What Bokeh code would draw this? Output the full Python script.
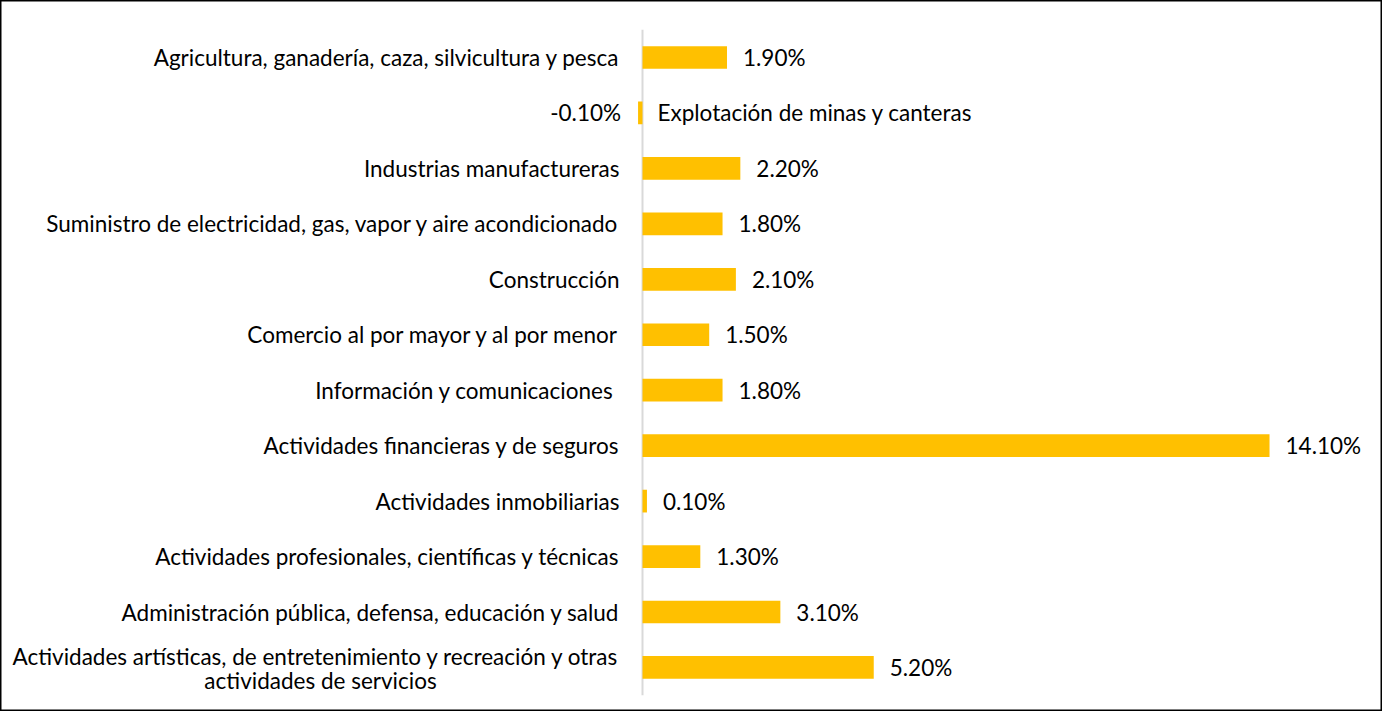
from bokeh.plotting import figure
from bokeh.models import Range1d, ColumnDataSource
from bokeh.core.properties import value
from bokeh.embed import file_html
from bokeh.resources import INLINE

categories = [
    "Agricultura, ganadería, caza, silvicultura y pesca",
    "Explotación de minas y canteras",
    "Industrias manufactureras",
    "Suministro de electricidad, gas, vapor y aire acondicionado",
    "Construcción",
    "Comercio al por mayor y al por menor",
    "Información y comunicaciones ",
    "Actividades financieras y de seguros",
    "Actividades inmobiliarias",
    "Actividades profesionales, científicas y técnicas",
    "Administración pública, defensa, educación y salud",
    "Actividades artísticas, de entretenimiento y recreación y otras\nactividades de servicios",
]
values = [1.9, -0.1, 2.2, 1.8, 2.1, 1.5, 1.8, 14.1, 0.1, 1.3, 3.1, 5.2]

FONT = "Lato"
FS = "22.5px"
W, H = 1382, 711
PX_PER_UNIT = 44.47
ZERO_X = 642
ROW0 = 57
ROW_H = 55.45

x_start = -ZERO_X / PX_PER_UNIT
x_end = (W - ZERO_X) / PX_PER_UNIT
y_top = -ROW0 / ROW_H
y_bot = (H - ROW0) / ROW_H

p = figure(width=W, height=H, output_backend="svg", toolbar_location=None,
           x_range=Range1d(x_start, x_end), y_range=Range1d(y_bot, y_top),
           min_border=0, x_axis_type=None, y_axis_type=None)
p.grid.visible = False
p.outline_line_color = "black"
p.outline_line_width = 2
p.background_fill_color = "white"
p.border_fill_color = "white"

n = len(categories)
ys = list(range(n))
pos = [v >= 0 for v in values]

src = ColumnDataSource(dict(y=ys, v=values, zero=[0] * n))

# zero line
p.segment(x0=[0], y0=[-0.5], x1=[0], y1=[n - 0.5], line_color="#D9D9D9", line_width=2)

p.hbar(y="y", left="zero", right="v", height=0.41, source=src,
       fill_color="#FFC000", line_color=None)

common = dict(text_baseline="middle", text_font=value(FONT),
              text_font_size=FS, text_color="#000000")

# value labels
pos_idx = [i for i in range(n) if pos[i]]
neg_idx = [i for i in range(n) if not pos[i]]
p.text(x=[values[i] for i in pos_idx], y=[ys[i] for i in pos_idx],
       text=[f"{values[i]:.2f}%" for i in pos_idx], x_offset=16,
       text_align="left", **common)
p.text(x=[values[i] for i in neg_idx], y=[ys[i] for i in neg_idx],
       text=[f"{values[i]:.2f}%" for i in neg_idx], x_offset=-17,
       text_align="right", **common)

# category labels (single line, positive bars)
single = [i for i in pos_idx if "\n" not in categories[i]]
multi = [i for i in pos_idx if "\n" in categories[i]]
p.text(x=[0] * len(single), y=[ys[i] for i in single],
       text=[categories[i] for i in single], x_offset=-23,
       text_align="right", **common)
# two-line label: first line right-aligned, second centred under it
for i in multi:
    l1, l2 = categories[i].split("\n")
    p.text(x=[0], y=[ys[i]], text=[l1], x_offset=-23, y_offset=-11,
           text_align="right", **common)
    p.text(x=[0], y=[ys[i]], text=[l2], x_offset=-322, y_offset=13,
           text_align="center", **common)
# labels of negative bars sit to the right of the zero line
p.text(x=[0] * len(neg_idx), y=[ys[i] for i in neg_idx],
       text=[categories[i] for i in neg_idx], x_offset=15,
       text_align="left", **common)

open("out.html", "w").write(file_html(p, INLINE))
